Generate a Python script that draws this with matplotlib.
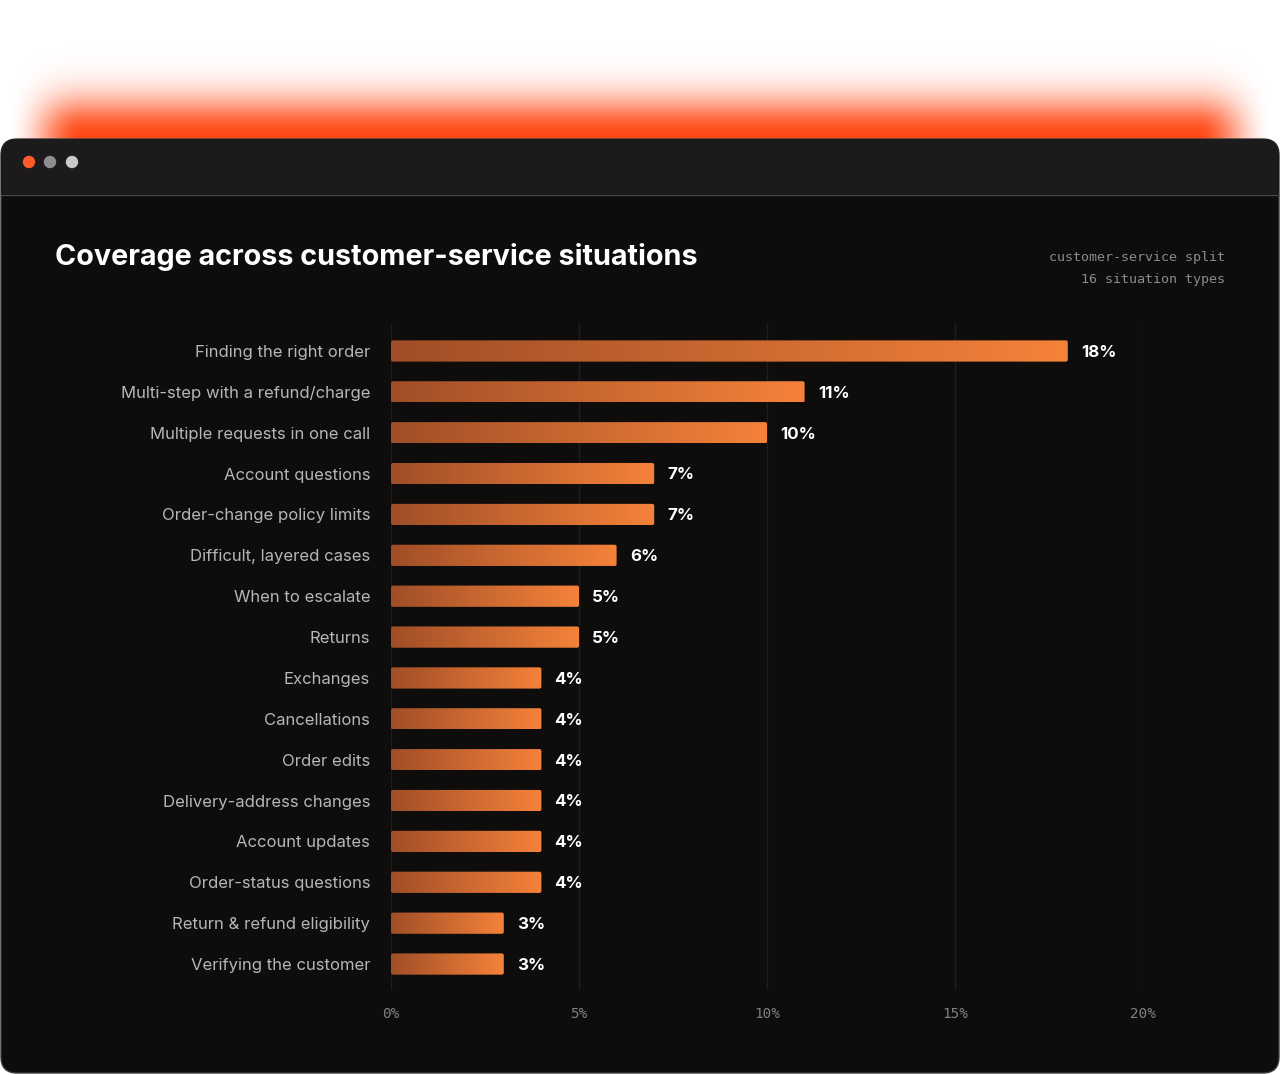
import numpy as np
import matplotlib
matplotlib.use("Agg")
import matplotlib.pyplot as plt
from matplotlib.patches import FancyBboxPatch, Circle, Rectangle
from matplotlib.colors import LinearSegmentedColormap

categories = [
    "Finding the right order",
    "Multi-step with a refund/charge",
    "Multiple requests in one call",
    "Account questions",
    "Order-change policy limits",
    "Difficult, layered cases",
    "When to escalate",
    "Returns",
    "Exchanges",
    "Cancellations",
    "Order edits",
    "Delivery-address changes",
    "Account updates",
    "Order-status questions",
    "Return & refund eligibility",
    "Verifying the customer",
]
values = [18, 11, 10, 7, 7, 6, 5, 5, 4, 4, 4, 4, 4, 4, 3, 3]
value_labels = [f"{v}%" for v in values]
xticks = [0, 5, 10, 15, 20]
xtick_labels = ["0%", "5%", "10%", "15%", "20%"]
title = "Coverage across customer-service situations"
subtitle_lines = ["customer-service split", "16 situation types"]

W, H = 1280, 1075
fig = plt.figure(figsize=(W / 100, H / 100), dpi=100, facecolor="white")

# ---------- background / window chrome ----------
bg = fig.add_axes([0, 0, 1, 1])
bg.set_xlim(0, W)
bg.set_ylim(H, 0)
bg.axis("off")

# orange glow above window
xs = np.arange(W) + 0.5
ys = np.arange(0, 150) + 0.5
def smooth(t):
    t = np.clip(t, 0, 1)
    return t * t * (3 - 2 * t)
sx = smooth((xs - 8) / 75.0) * smooth((W - 8 - xs) / 75.0)
sy = np.where(ys >= 136, 1.0, np.exp(-((136 - ys) / 38.0) ** 2))
alpha = np.outer(sy, sx)
glow = np.zeros((len(ys), W, 4))
glow[..., 0] = 1.0
glow[..., 1] = 0.29
glow[..., 2] = 0.09
glow[..., 3] = alpha
bg.imshow(glow, extent=(0, W, 150, 0), aspect="auto", interpolation="bilinear", zorder=0)

win = FancyBboxPatch((1, 139), W - 2, H - 139 - 2,
                     boxstyle="round,pad=0,rounding_size=16",
                     facecolor="#0f0d0c", edgecolor="#3a3a3a", lw=1.0, zorder=1)
bg.add_patch(win)
bar_top = Rectangle((0, 139), W, 55, facecolor="#1c1a1b", edgecolor="none", zorder=2)
bg.add_patch(bar_top)
bar_top.set_clip_path(win)
bg.plot([1, W - 1], [194.5, 194.5], color="#4a4848", lw=1.0, zorder=3)
for cx, col in [(29, "#ff5a2a"), (50, "#8e8e8e"), (72, "#c9c9c9")]:
    bg.add_patch(Circle((cx, 162), 6.2, facecolor=col, edgecolor="none", zorder=4))

bg.text(55, 257, title, color="white", fontsize=20.7, fontweight="bold",
        family=["Inter", "DejaVu Sans"], va="center", ha="left", zorder=5)
bg.text(1225, 258, subtitle_lines[0], color="#8a8a8a", fontsize=9.6,
        family=["DejaVu Sans Mono"], va="center", ha="right", zorder=5)
bg.text(1225, 280, subtitle_lines[1], color="#8a8a8a", fontsize=9.6,
        family=["DejaVu Sans Mono"], va="center", ha="right", zorder=5)

# ---------- chart axes ----------
left, right = 391, 1143
top, bottom = 323, 990
ax = fig.add_axes([left / W, 1 - bottom / H, (right - left) / W, (bottom - top) / H])
ax.set_facecolor("none")
n = len(categories)
ypos = np.arange(n)

for s in ax.spines.values():
    s.set_visible(False)
ax.set_xticks(xticks, xtick_labels)
ax.grid(axis="x", color="#1f1d1d", lw=1.0, zorder=0)
ax.set_axisbelow(True)
ax.tick_params(axis="x", length=0, pad=12, labelcolor="#808080", labelsize=10.3)
for t in ax.get_xticklabels():
    t.set_family("DejaVu Sans Mono")
ax.set_yticks(ypos, categories)
ax.tick_params(axis="y", length=0, pad=15, labelcolor="#b6b6b6", labelsize=12.0)
for t in ax.get_yticklabels():
    t.set_family(["Inter", "DejaVu Sans"])

cmap = LinearSegmentedColormap.from_list("og", ["#a04e27", "#f5823a"])
grad = np.linspace(0, 1, 256).reshape(1, -1)
bars = ax.barh(ypos, values, height=0.52, color="none", edgecolor="none", zorder=2)
for b, v, lab in zip(bars, values, value_labels):
    x0, y0 = b.get_x(), b.get_y()
    w, h = b.get_width(), b.get_height()
    patch = FancyBboxPatch((x0, y0), w, h, boxstyle="round,pad=0,rounding_size=0.05",
                           facecolor="none", edgecolor="none", transform=ax.transData)
    ax.add_patch(patch)
    im = ax.imshow(grad, cmap=cmap, extent=(x0, x0 + w, y0 + h, y0),
                   aspect="auto", interpolation="bilinear", zorder=3)
    im.set_clip_path(patch)
    ax.annotate(lab, (x0 + w, y0 + h / 2), xytext=(9.5, -1.0), textcoords="offset points",
                color="white", fontsize=12.2, fontweight="bold",
                family=["Inter", "DejaVu Sans"], va="center", ha="left", zorder=4)

ax.set_xlim(0, 20)
ax.set_ylim(n - 1 + 0.66 - 0.025, -0.66 - 0.025)

fig.savefig("out.png", dpi=100, facecolor="white")
